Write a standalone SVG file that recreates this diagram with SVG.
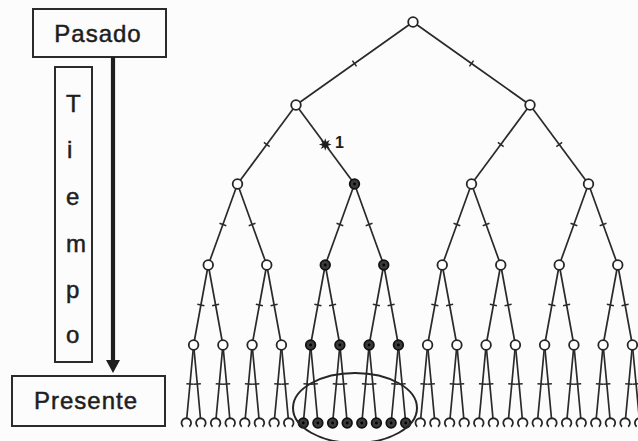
<svg xmlns="http://www.w3.org/2000/svg" xmlns:xlink="http://www.w3.org/1999/xlink" width="638" height="441" viewBox="0 0 638 441">
  <style>
    .box { fill: none; stroke: #2b2b2b; stroke-width: 2; }
    .lbl { font-family: "Liberation Sans", Arial, sans-serif; font-size: 24px; fill: #1e1e1e; stroke: #1e1e1e; stroke-width: 0.5; letter-spacing: 1px; }
    .vl { font-family: "Liberation Sans", Arial, sans-serif; font-size: 24px; fill: #1e1e1e; stroke: #1e1e1e; stroke-width: 0.5; }
    .edge { fill: none; stroke: #2a2a2a; stroke-width: 1.7; marker-mid: url(#tick); }
    .plain { fill: none; stroke: #2a2a2a; stroke-width: 1.7; }
    .open { fill: #fff; stroke: #262626; stroke-width: 1.8; }
    .full { fill: #3a3a3a; stroke: #111; stroke-width: 1.8; }
    .ring { fill: none; stroke: #262626; stroke-width: 2; }
  </style>
  <defs>
    <marker id="tick" viewBox="0 0 10 10" refX="5" refY="5" markerWidth="10" markerHeight="10" markerUnits="userSpaceOnUse" orient="auto">
      <path d="M5,1.4 L5,8.6" stroke="#2a2a2a" stroke-width="1.5"/>
    </marker>
    <circle id="o" r="4.8" class="open"/>
    <g id="f"><circle r="4.8" class="full"/><circle r="1.4" fill="#000"/></g>
    <path id="lf" d="M-3.1,3.7 A4.8,4.8 0 1 1 3.1,3.7" class="open"/>
  </defs>

  <rect width="638" height="441" fill="#fcfcfc"/>

  <!-- time axis -->
  <g id="pasado">
    <rect class="box" x="33" y="9" width="133" height="48"/>
    <text class="lbl" x="98" y="42" text-anchor="middle">Pasado</text>
  </g>
  <g id="tiempo">
    <rect class="box" x="55" y="67" width="37" height="295"/>
    <text class="vl" x="66" y="112">T</text>
    <text class="vl" x="67" y="158">i</text>
    <text class="vl" x="66" y="205">e</text>
    <text class="vl" x="66" y="252">m</text>
    <text class="vl" x="66" y="298">p</text>
    <text class="vl" x="66" y="343">o</text>
  </g>
  <g id="presente">
    <rect class="box" x="12" y="376" width="153" height="50"/>
    <text class="lbl" x="86" y="409" text-anchor="middle">Presente</text>
  </g>
  <g id="time-arrow">
    <line x1="113" y1="57" x2="113" y2="362" stroke="#1e1e1e" stroke-width="4.2"/>
    <polygon points="106,360 120,360 113,373" fill="#1e1e1e"/>
  </g>

  <!-- branches, each with a mutation tick at its midpoint -->
  <g id="connectors">
    <path class="edge" d="M413,22 L354.5,63.5 L296,105"/>
    <path class="edge" d="M413,22 L471.5,63.5 L530,105"/>

    <path class="edge" d="M296,105 L266.75,144.5 L237.5,184"/>
    <path class="plain" d="M296,105 L354.5,184"/>
    <path class="edge" d="M530,105 L500.75,144.5 L471.5,184"/>
    <path class="edge" d="M530,105 L559.25,144.5 L588.5,184"/>

    <path class="edge" d="M237.5,184 L222.9,224.5 L208.25,265"/>
    <path class="edge" d="M237.5,184 L252.1,224.5 L266.75,265"/>
    <path class="edge" d="M354.5,184 L339.9,224.5 L325.25,265"/>
    <path class="edge" d="M354.5,184 L369.1,224.5 L383.75,265"/>
    <path class="edge" d="M471.5,184 L456.9,224.5 L442.25,265"/>
    <path class="edge" d="M471.5,184 L486.1,224.5 L500.75,265"/>
    <path class="edge" d="M588.5,184 L573.9,224.5 L559.25,265"/>
    <path class="edge" d="M588.5,184 L603.1,224.5 L617.75,265"/>

    <path class="edge" d="M208.25,265 L200.9,305 L193.6,345"/>
    <path class="edge" d="M208.25,265 L215.6,305 L222.9,345"/>
    <path class="edge" d="M266.75,265 L259.4,305 L252.1,345"/>
    <path class="edge" d="M266.75,265 L274.1,305 L281.4,345"/>
    <path class="edge" d="M325.25,265 L317.9,305 L310.6,345"/>
    <path class="edge" d="M325.25,265 L332.6,305 L339.9,345"/>
    <path class="edge" d="M383.75,265 L376.4,305 L369.1,345"/>
    <path class="edge" d="M383.75,265 L391.1,305 L398.4,345"/>
    <path class="edge" d="M442.25,265 L434.9,305 L427.6,345"/>
    <path class="edge" d="M442.25,265 L449.6,305 L456.9,345"/>
    <path class="edge" d="M500.75,265 L493.4,305 L486.1,345"/>
    <path class="edge" d="M500.75,265 L508.1,305 L515.4,345"/>
    <path class="edge" d="M559.25,265 L551.9,305 L544.6,345"/>
    <path class="edge" d="M559.25,265 L566.6,305 L573.9,345"/>
    <path class="edge" d="M617.75,265 L610.4,305 L603.1,345"/>
    <path class="edge" d="M617.75,265 L625.1,305 L632.4,345"/>

    <path class="edge" d="M193.6,345 L190,384 L186.3,423"/>
    <path class="edge" d="M193.6,345 L197.3,384 L200.9,423"/>
    <path class="edge" d="M222.9,345 L219.3,384 L215.6,423"/>
    <path class="edge" d="M222.9,345 L226.6,384 L230.2,423"/>
    <path class="edge" d="M252.1,345 L248.5,384 L244.8,423"/>
    <path class="edge" d="M252.1,345 L255.8,384 L259.4,423"/>
    <path class="edge" d="M281.4,345 L277.8,384 L274.1,423"/>
    <path class="edge" d="M281.4,345 L285.1,384 L288.7,423"/>
    <path class="edge" d="M310.6,345 L307,384 L303.3,423"/>
    <path class="edge" d="M310.6,345 L314.3,384 L317.9,423"/>
    <path class="edge" d="M339.9,345 L336.3,384 L332.6,423"/>
    <path class="edge" d="M339.9,345 L343.6,384 L347.2,423"/>
    <path class="edge" d="M369.1,345 L365.5,384 L361.8,423"/>
    <path class="edge" d="M369.1,345 L372.8,384 L376.4,423"/>
    <path class="edge" d="M398.4,345 L394.8,384 L391.1,423"/>
    <path class="edge" d="M398.4,345 L402.1,384 L405.7,423"/>
    <path class="edge" d="M427.6,345 L424,384 L420.3,423"/>
    <path class="edge" d="M427.6,345 L431.3,384 L434.9,423"/>
    <path class="edge" d="M456.9,345 L453.3,384 L449.6,423"/>
    <path class="edge" d="M456.9,345 L460.6,384 L464.2,423"/>
    <path class="edge" d="M486.1,345 L482.5,384 L478.8,423"/>
    <path class="edge" d="M486.1,345 L489.8,384 L493.4,423"/>
    <path class="edge" d="M515.4,345 L511.8,384 L508.1,423"/>
    <path class="edge" d="M515.4,345 L519.1,384 L522.7,423"/>
    <path class="edge" d="M544.6,345 L541,384 L537.3,423"/>
    <path class="edge" d="M544.6,345 L548.3,384 L551.9,423"/>
    <path class="edge" d="M573.9,345 L570.3,384 L566.6,423"/>
    <path class="edge" d="M573.9,345 L577.6,384 L581.2,423"/>
    <path class="edge" d="M603.1,345 L599.5,384 L595.8,423"/>
    <path class="edge" d="M603.1,345 L606.8,384 L610.4,423"/>
    <path class="edge" d="M632.4,345 L628.8,384 L625.1,423"/>
    <path class="edge" d="M632.4,345 L636.1,384 L639.7,423"/>
  </g>

  <!-- mutation 1 -->
  <g id="mutation-1">
    <polygon transform="translate(325.25,144.5) scale(1.15)" fill="#1e1e1e" points="5.5,0 2.4,1 3.89,3.89 1,2.4 0,5.5 -1,2.4 -3.89,3.89 -2.4,1 -5.5,0 -2.4,-1 -3.89,-3.89 -1,-2.4 0,-5.5 1,-2.4 3.89,-3.89 2.4,-1"/>
    <text x="335" y="148" font-family="Liberation Sans, Arial, sans-serif" font-size="16" font-weight="bold" fill="#1e1e1e">1</text>
  </g>

  <!-- nodes -->
  <g id="n0"><use xlink:href="#o" x="413" y="22"/></g>
  <g id="n1-0"><use xlink:href="#o" x="296" y="105"/></g>
  <g id="n1-1"><use xlink:href="#o" x="530" y="105"/></g>
  <g id="n2-0"><use xlink:href="#o" x="237.5" y="184"/></g>
  <g id="n2-1"><use xlink:href="#f" x="354.5" y="184"/></g>
  <g id="n2-2"><use xlink:href="#o" x="471.5" y="184"/></g>
  <g id="n2-3"><use xlink:href="#o" x="588.5" y="184"/></g>
  <g id="n3-0"><use xlink:href="#o" x="208.25" y="265"/></g>
  <g id="n3-1"><use xlink:href="#o" x="266.75" y="265"/></g>
  <g id="n3-2"><use xlink:href="#f" x="325.25" y="265"/></g>
  <g id="n3-3"><use xlink:href="#f" x="383.75" y="265"/></g>
  <g id="n3-4"><use xlink:href="#o" x="442.25" y="265"/></g>
  <g id="n3-5"><use xlink:href="#o" x="500.75" y="265"/></g>
  <g id="n3-6"><use xlink:href="#o" x="559.25" y="265"/></g>
  <g id="n3-7"><use xlink:href="#o" x="617.75" y="265"/></g>
  <g id="n4-0"><use xlink:href="#o" x="193.6" y="345"/></g>
  <g id="n4-1"><use xlink:href="#o" x="222.9" y="345"/></g>
  <g id="n4-2"><use xlink:href="#o" x="252.1" y="345"/></g>
  <g id="n4-3"><use xlink:href="#o" x="281.4" y="345"/></g>
  <g id="n4-4"><use xlink:href="#f" x="310.6" y="345"/></g>
  <g id="n4-5"><use xlink:href="#f" x="339.9" y="345"/></g>
  <g id="n4-6"><use xlink:href="#f" x="369.1" y="345"/></g>
  <g id="n4-7"><use xlink:href="#f" x="398.4" y="345"/></g>
  <g id="n4-8"><use xlink:href="#o" x="427.6" y="345"/></g>
  <g id="n4-9"><use xlink:href="#o" x="456.9" y="345"/></g>
  <g id="n4-10"><use xlink:href="#o" x="486.1" y="345"/></g>
  <g id="n4-11"><use xlink:href="#o" x="515.4" y="345"/></g>
  <g id="n4-12"><use xlink:href="#o" x="544.6" y="345"/></g>
  <g id="n4-13"><use xlink:href="#o" x="573.9" y="345"/></g>
  <g id="n4-14"><use xlink:href="#o" x="603.1" y="345"/></g>
  <g id="n4-15"><use xlink:href="#o" x="632.4" y="345"/></g>

  <g id="n5-0"><use xlink:href="#lf" x="186.3" y="423"/></g>
  <g id="n5-1"><use xlink:href="#lf" x="200.9" y="423"/></g>
  <g id="n5-2"><use xlink:href="#lf" x="215.6" y="423"/></g>
  <g id="n5-3"><use xlink:href="#lf" x="230.2" y="423"/></g>
  <g id="n5-4"><use xlink:href="#lf" x="244.8" y="423"/></g>
  <g id="n5-5"><use xlink:href="#lf" x="259.4" y="423"/></g>
  <g id="n5-6"><use xlink:href="#lf" x="274.1" y="423"/></g>
  <g id="n5-7"><use xlink:href="#lf" x="288.7" y="423"/></g>
  <g id="n5-8"><use xlink:href="#f" x="303.3" y="423"/></g>
  <g id="n5-9"><use xlink:href="#f" x="317.9" y="423"/></g>
  <g id="n5-10"><use xlink:href="#f" x="332.6" y="423"/></g>
  <g id="n5-11"><use xlink:href="#f" x="347.2" y="423"/></g>
  <g id="n5-12"><use xlink:href="#f" x="361.8" y="423"/></g>
  <g id="n5-13"><use xlink:href="#f" x="376.4" y="423"/></g>
  <g id="n5-14"><use xlink:href="#f" x="391.1" y="423"/></g>
  <g id="n5-15"><use xlink:href="#f" x="405.7" y="423"/></g>
  <g id="n5-16"><use xlink:href="#lf" x="420.3" y="423"/></g>
  <g id="n5-17"><use xlink:href="#lf" x="434.9" y="423"/></g>
  <g id="n5-18"><use xlink:href="#lf" x="449.6" y="423"/></g>
  <g id="n5-19"><use xlink:href="#lf" x="464.2" y="423"/></g>
  <g id="n5-20"><use xlink:href="#lf" x="478.8" y="423"/></g>
  <g id="n5-21"><use xlink:href="#lf" x="493.4" y="423"/></g>
  <g id="n5-22"><use xlink:href="#lf" x="508.1" y="423"/></g>
  <g id="n5-23"><use xlink:href="#lf" x="522.7" y="423"/></g>
  <g id="n5-24"><use xlink:href="#lf" x="537.3" y="423"/></g>
  <g id="n5-25"><use xlink:href="#lf" x="551.9" y="423"/></g>
  <g id="n5-26"><use xlink:href="#lf" x="566.6" y="423"/></g>
  <g id="n5-27"><use xlink:href="#lf" x="581.2" y="423"/></g>
  <g id="n5-28"><use xlink:href="#lf" x="595.8" y="423"/></g>
  <g id="n5-29"><use xlink:href="#lf" x="610.4" y="423"/></g>
  <g id="n5-30"><use xlink:href="#lf" x="625.1" y="423"/></g>
  <g id="n5-31"><use xlink:href="#lf" x="639.7" y="423"/></g>

  <!-- sampled lineage -->
  <ellipse id="sample" class="ring" cx="355" cy="408" rx="62" ry="35"/>
</svg>
